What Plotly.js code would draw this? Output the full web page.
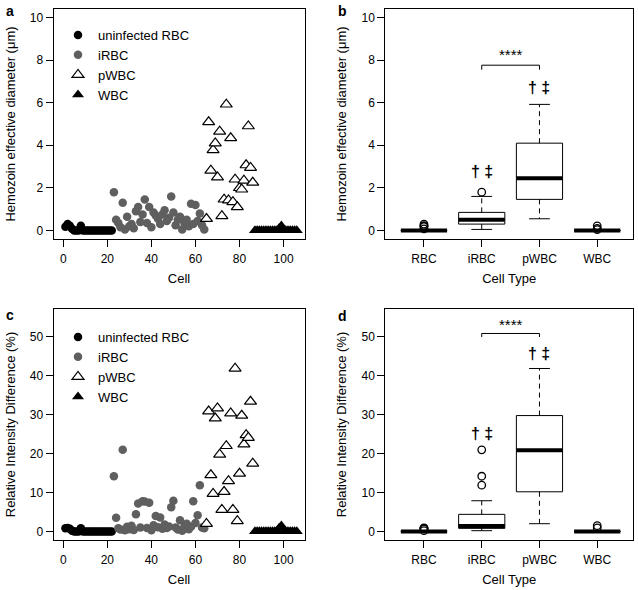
<!DOCTYPE html>
<html><head><meta charset="utf-8">
<script src="https://cdn.plot.ly/plotly-3.0.1.min.js"></script>
<style>html,body{margin:0;padding:0;background:#fff}#chart{width:638px;height:590px}</style>
</head><body><div id="chart"></div>
<script>
// ---------- data ----------
const legendNames = ["uninfected RBC", "iRBC", "pWBC", "WBC"];
const boxCategories = ["RBC", "iRBC", "pWBC", "WBC"];
const xTicksCell = [0, 20, 40, 60, 80, 100];
const yTicksDiam = [0, 2, 4, 6, 8, 10];
const yTicksRid = [0, 10, 20, 30, 40, 50];

// Hemozoin effective diameter (um), cells in order
const diamRBC = [0.18, 0.30, 0.22, 0.08, 0, 0, 0, 0.22, 0, 0, 0, 0, 0, 0, 0, 0, 0, 0, 0, 0, 0, 0];
const diamIRBC = [1.80, 0.50, 0.35, 0.15, 1.30, 0.05, 0.65, 0.20, 0.30, 0.10,
                  0.90, 1.10, 0.40, 0.75, 1.45, 0.35, 1.10, 0.15, 0.85, 0.70,
                  0.55, 0.30, 0.75, 0.95, 0.45, 0.60, 1.60, 0.85, 0.25, 0.50,
                  0.65, 0.05, 0.35, 0.50, 0.20, 1.25, 0.30, 1.20, 0.45, 0.80,
                  0.25, 0.05];
const diamPWBC = [0.55, 5.09, 2.82, 3.78, 4.10, 2.50, 4.65, 0.68, 1.46, 5.92, 1.42,
                  4.34, 1.34, 2.40, 1.10, 2.00, 1.93, 2.35, 3.07, 4.90, 2.95, 2.25];
const diamWBC = [0, 0, 0, 0, 0, 0, 0, 0, 0, 0, 0, 0.10, 0.22, 0.04, 0, 0, 0, 0, 0, 0];

// Relative intensity difference (%)
const ridRBC = [0.8, 0.9, 0.7, 0.2, 0, 0, 0, 0.8, 0, 0, 0, 0, 0, 0, 0, 0, 0, 0, 0, 0, 0, 0];
const ridIRBC = [14.2, 3.5, 0.8, 0.5, 21.0, 0.3, 1.2, 0.6, 1.5, 0.4,
                 4.4, 7.2, 1.0, 7.8, 7.7, 0.9, 7.4, 0.3, 1.6, 4.0,
                 1.1, 3.6, 0.7, 1.8, 0.9, 1.3, 6.2, 7.9, 1.0, 0.5,
                 2.9, 0.2, 1.3, 2.0, 0.6, 1.2, 7.8, 2.2, 4.2, 11.9,
                 1.0, 0.8];
const ridPWBC = [2.0, 30.9, 14.5, 9.7, 29.1, 31.7, 19.8, 5.6, 10.2, 22.0, 13.0,
                 30.4, 5.6, 41.9, 2.7, 14.9, 29.8, 22.4, 24.8, 24.1, 33.4, 17.5];
const ridWBC = [0, 0, 0, 0, 0, 0, 0, 0, 0, 0, 0, 0.9, 1.5, 0, 0, 0, 0, 0, 0, 0];

// ---------- helpers ----------
const FONT = "Liberation Sans, Arial, Helvetica, sans-serif";
const groupsDiam = [diamRBC, diamIRBC, diamPWBC, diamWBC];
const groupsRid = [ridRBC, ridIRBC, ridPWBC, ridWBC];

// consecutive cell numbering across groups
function cellNumbers(groups) {
  let n = 0;
  return groups.map(g => g.map(() => ++n));
}
const markerStyles = [
  {symbol: "circle", size: 8.5, color: "#000000", line: {width: 0}},
  {symbol: "circle", size: 8.5, color: "#5f5f5f", line: {width: 0}},
  {symbol: "triangle-up", size: 10.5, color: "#ffffff", line: {width: 1.2, color: "#000000"}},
  {symbol: "triangle-up", size: 10.5, color: "#000000", line: {width: 0}}
];

function scatterTraces(groups, xa, ya, legendId) {
  const xs = cellNumbers(groups);
  return groups.map((g, i) => ({
    type: "scatter", mode: "markers", name: legendNames[i],
    x: xs[i], y: g, xaxis: xa, yaxis: ya, legend: legendId,
    marker: markerStyles[i], hoverinfo: "skip", cliponaxis: false
  }));
}

// R-style boxplot statistics (Tukey hinges, 1.5 IQR)
function boxStats(vals) {
  const s = [...vals].sort((a, b) => a - b);
  const n = s.length;
  const n4 = Math.floor((n + 3) / 2) / 2;
  const idx = [1, n4, (n + 1) / 2, n + 1 - n4, n];
  const f = idx.map(v => 0.5 * (s[Math.floor(v) - 1] + s[Math.ceil(v) - 1]));
  const iqr = f[3] - f[1];
  const lo = f[1] - 1.5 * iqr, hi = f[3] + 1.5 * iqr;
  const inside = s.filter(v => v >= lo && v <= hi);
  const out = vals.filter(v => v < lo || v > hi);
  return {q1: f[1], med: f[2], q3: f[3], wlo: Math.min(...inside), whi: Math.max(...inside), out};
}

function boxTraces(groups, xa, ya) {
  const st = groups.map(boxStats);
  const pos = boxCategories.map((c, i) => i + 1);
  const BW = 0.8, CW = 0.36;
  const traces = [];
  traces.push({
    type: "box", x: pos, xaxis: xa, yaxis: ya, showlegend: false,
    q1: st.map(s => s.q1), median: st.map(s => s.med), q3: st.map(s => s.q3),
    lowerfence: st.map(s => s.q1), upperfence: st.map(s => s.q3),
    width: BW, whiskerwidth: 0, boxpoints: false, fillcolor: "#ffffff",
    line: {color: "#000000", width: 1}, hoverinfo: "skip"
  });
  const wx = [], wy = [], cx = [], cy = [], mx = [], my = [], ox = [], oy = [];
  st.forEach((s, i) => {
    const p = pos[i];
    wx.push(p, p, null, p, p, null); wy.push(s.q3, s.whi, null, s.q1, s.wlo, null);
    cx.push(p - CW / 2, p + CW / 2, null, p - CW / 2, p + CW / 2, null);
    cy.push(s.whi, s.whi, null, s.wlo, s.wlo, null);
    mx.push(p - BW / 2, p + BW / 2, null); my.push(s.med, s.med, null);
    s.out.forEach(v => { ox.push(p); oy.push(v); });
  });
  const common = {type: "scatter", xaxis: xa, yaxis: ya, showlegend: false, hoverinfo: "skip"};
  traces.push({...common, mode: "lines", x: wx, y: wy, line: {color: "#000", width: 1, dash: "5px,4px"}});
  traces.push({...common, mode: "lines", x: cx, y: cy, line: {color: "#000", width: 1}});
  traces.push({...common, mode: "lines", x: mx, y: my, line: {color: "#000", width: 4}});
  traces.push({...common, mode: "markers", x: ox, y: oy, cliponaxis: false,
    marker: {symbol: "circle-open", size: 7.5, color: "#000", line: {width: 1.3, color: "#000"}}});
  return traces;
}

const data = [
  ...scatterTraces(groupsDiam, "x", "y", "legend"),
  ...boxTraces(groupsDiam, "x2", "y2"),
  ...scatterTraces(groupsRid, "x3", "y3", "legend2"),
  ...boxTraces(groupsRid, "x4", "y4")
];

// ---------- layout ----------
const axisBase = {
  showline: true, mirror: true, linecolor: "#000", linewidth: 1,
  ticks: "outside", ticklen: 7, tickwidth: 1, tickcolor: "#000",
  showgrid: false, zeroline: false, automargin: false, fixedrange: true,
  tickfont: {size: 12, color: "#000", family: FONT}
};
const titleFont = {size: 13, color: "#000", family: FONT};
const dLeftX = [0.0839, 0.4773], dRightX = [0.6039, 0.9922];
const dTopY = [0.5949, 0.9848], dBotY = [0.0847, 0.4763];
const rangeCell = [-4.4, 109.5], rangeCat = [0.33, 4.62];
const rangeDiam = [-0.4, 10.4], rangeRid = [-2.2, 57.2];

function xCell(dom, anchor) {
  return {...axisBase, domain: dom, anchor, range: rangeCell, tickmode: "array", tickvals: xTicksCell,
    ticklabelstandoff: 2, title: {text: "Cell", font: titleFont, standoff: 8}};
}
function xCat(dom, anchor) {
  return {...axisBase, domain: dom, anchor, range: rangeCat, tickmode: "array",
    tickvals: boxCategories.map((c, i) => i + 1), ticktext: boxCategories,
    ticklabelstandoff: 2, title: {text: "Cell Type", font: titleFont, standoff: 8}};
}
function yAx(dom, anchor, range, ticks, title) {
  return {...axisBase, domain: dom, anchor, range, tickmode: "array", tickvals: ticks,
    title: {text: title, font: titleFont, standoff: 11}};
}
const T_DIAM = "Hemozoin effective diameter (μm)";
const T_RID = "Relative Intensity Difference (%)";

function bracket(xa, ya, y0, y1) {
  return {type: "path", xref: xa, yref: ya, line: {color: "#000", width: 1},
    path: `M 2 ${y0} L 2 ${y1} L 3 ${y1} L 3 ${y0}`};
}
function ann(xa, ya, x, y, text, size, bold) {
  return {xref: xa, yref: ya, x, y, text: bold ? `<b>${text}</b>` : text, showarrow: false,
    xanchor: "center", yanchor: "middle", font: {size, color: "#000", family: FONT}};
}
function panelLabel(x, y, t) {
  return {xref: "paper", yref: "paper", x, y, text: `<b>${t}</b>`, showarrow: false,
    xanchor: "left", yanchor: "top", font: {size: 14, color: "#000", family: FONT}};
}

const layout = {
  width: 638, height: 590, margin: {l: 0, r: 0, t: 0, b: 0},
  paper_bgcolor: "#fff", plot_bgcolor: "#fff", hovermode: false,
  font: {family: FONT, color: "#000"},
  xaxis: xCell(dLeftX, "y"), yaxis: yAx(dTopY, "x", rangeDiam, yTicksDiam, T_DIAM),
  xaxis2: xCat(dRightX, "y2"), yaxis2: yAx(dTopY, "x2", rangeDiam, yTicksDiam, T_DIAM),
  xaxis3: xCell(dLeftX, "y3"), yaxis3: yAx(dBotY, "x3", rangeRid, yTicksRid, T_RID),
  xaxis4: xCat(dRightX, "y4"), yaxis4: yAx(dBotY, "x4", rangeRid, yTicksRid, T_RID),
  legend: {x: 58 / 638, y: 1 - 20 / 590, xanchor: "left", yanchor: "top", bgcolor: "rgba(0,0,0,0)",
    borderwidth: 0, font: {size: 13, family: FONT, color: "#000"}, itemclick: false, itemdoubleclick: false},
  legend2: {x: 58 / 638, y: 1 - 322 / 590, xanchor: "left", yanchor: "top", bgcolor: "rgba(0,0,0,0)",
    borderwidth: 0, font: {size: 13, family: FONT, color: "#000"}, itemclick: false, itemdoubleclick: false},
  shapes: [bracket("x2", "y2", 7.55, 7.76), bracket("x4", "y4", 50.0, 50.9)],
  annotations: [
    ann("x2", "y2", 2.5, 8.25, "****", 15, false),
    ann("x2", "y2", 2, 2.75, "† ‡", 16, true),
    ann("x2", "y2", 3, 6.7, "† ‡", 16, true),
    ann("x4", "y4", 2.5, 53.2, "****", 15, false),
    ann("x4", "y4", 2, 25.3, "† ‡", 16, true),
    ann("x4", "y4", 3, 45.7, "† ‡", 16, true),
    panelLabel(4 / 638, 1 - 1 / 590, "a"),
    panelLabel(336 / 638, 1 - 1 / 590, "b"),
    panelLabel(4 / 638, 1 - 305 / 590, "c"),
    panelLabel(336 / 638, 1 - 306 / 590, "d")
  ]
};

Plotly.newPlot("chart", data, layout, {staticPlot: true, displayModeBar: false});
</script>
</body></html>
